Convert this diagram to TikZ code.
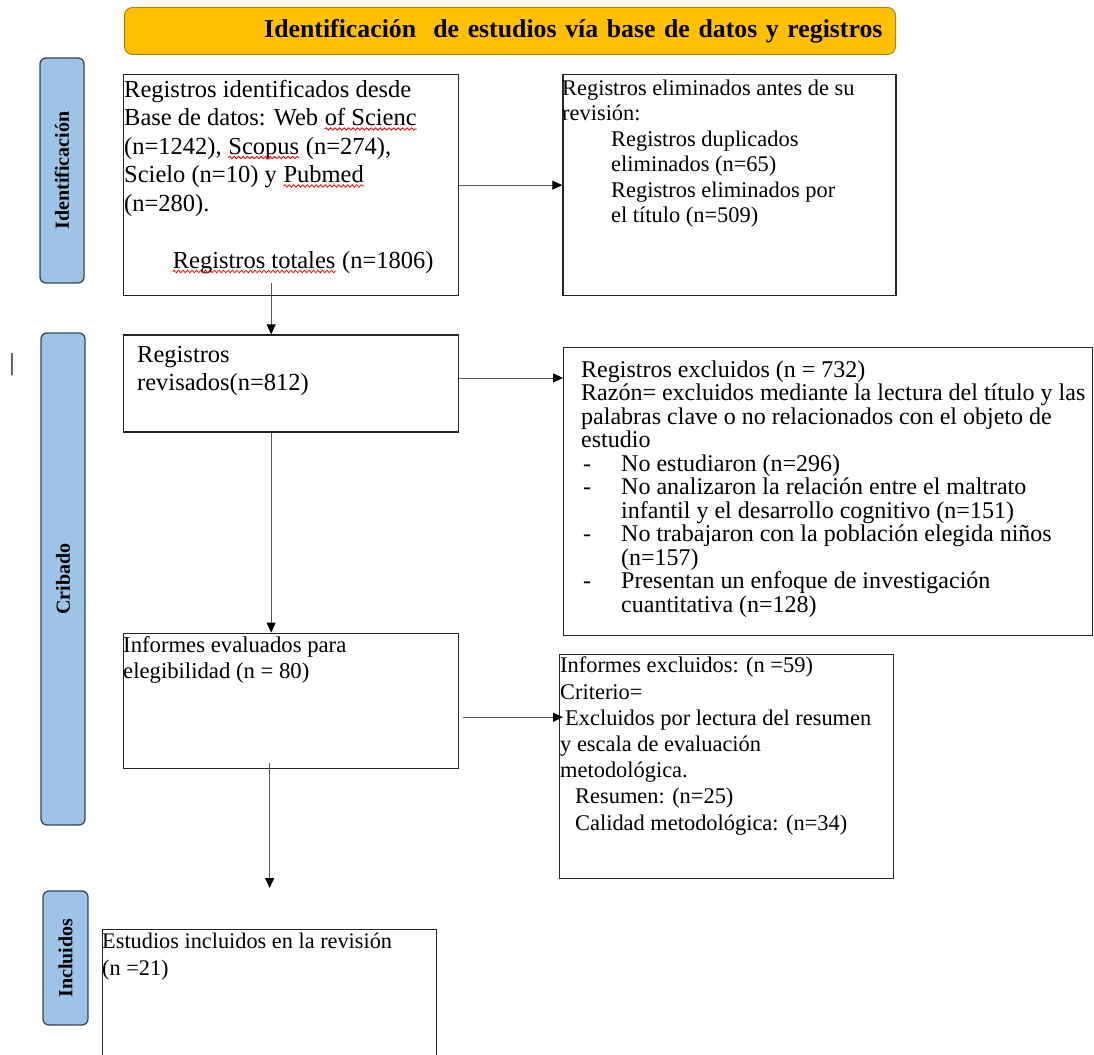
\documentclass[tikz,border=0pt]{standalone}
\usepackage{fontspec}
\setmainfont{Liberation Serif}
\usepackage{tikz}
\usetikzlibrary{positioning, arrows.meta, decorations.pathmorphing}
\definecolor{bannerfill}{HTML}{FFC000}
\definecolor{bannerline}{HTML}{B08800}
\definecolor{phasefill}{HTML}{9DC3E6}
\definecolor{phaseline}{HTML}{3A4654}
\tikzstyle{Box} = [rectangle, draw=black!85, line width=1.3pt, fill=white, anchor=north west, inner sep=0pt]
\tikzstyle{Txt} = [anchor=base west, inner sep=0pt, align=left]
\tikzstyle{Phase} = [rectangle, rounded corners=6pt, draw=phaseline, line width=1.3pt, fill=phasefill, rotate=90, inner sep=0pt, font=\fontsize{20}{24}\selectfont\bfseries]
\tikzstyle{Banner} = [rectangle, rounded corners=8pt, draw=bannerline, line width=1pt, fill=bannerfill, anchor=north west, inner xsep=13pt, inner ysep=0pt, text width=745pt, align=right, minimum height=47pt, font=\fontsize{25.8}{30}\selectfont\bfseries]
\tikzstyle{Link} = [draw=black!65, line width=0.9pt, -{Triangle[length=10pt, width=9pt, black]}]
\newcommand{\spellchk}[1]{\tikz[baseline=(sw.base)]{\node[inner sep=0pt, anchor=base, font=\rmfamily\fontsize{24.5}{28.5}\selectfont] (sw) {#1};\draw[red, line width=0.8pt, decorate, decoration={snake, amplitude=1.2pt, segment length=4.5pt}] ([yshift=-3.5pt]sw.base west) -- ([yshift=-3.5pt]sw.base east);}}

\begin{document}
\begin{tikzpicture}[x=1pt, y=-1pt]

    \useasboundingbox (0,0) rectangle (1094,1054);

    %%%%%%%%%%%%%%%%%%%%%%
    \node[Banner] (banner) at (124,7) {Identificación\ \ de estudios vía base de datos y registros};

    \node[Phase, minimum width=225pt, minimum height=44pt] (idphase) at (62,170.5) {Identificación};
    \node[Phase, minimum width=492pt, minimum height=44pt] (cribphase) at (63,579) {Cribado};
    \node[Phase, minimum width=134pt, minimum height=45pt] (inclphase) at (65.5,958) {Incluidos};

    \node[inner sep=0pt, font=\fontsize{24.5}{28}\selectfont] (cursor) at (12,365) {|};

    %%%%%%%%%%%%%%%%%%%%%%
    \node[Box, minimum width=335pt, minimum height=221pt] (ident) at (123,74) {};
    \node[Box, minimum width=333pt, minimum height=221pt] (elim) [right=103pt of ident] {};
    \node[Box, minimum width=335pt, minimum height=97pt] (revis) [below=38pt of ident] {};
    \node[Box, minimum width=529pt, minimum height=288pt] (excl) at (563,347) {};
    \node[Box, minimum width=335pt, minimum height=135pt] (eval) [below=200pt of revis] {};
    \node[Box, minimum width=334pt, minimum height=224pt] (excl2) at (559,654) {};
    \node[Box, minimum width=334pt, minimum height=140pt] (incl) at (102,929) {};

    %%%%%%%%%%%%%%%%%%%%%%
    % texts sit on the baseline of their last line
    \node[Txt, font=\fontsize{24.5}{28.5}\selectfont] (identtxt) at (124,268) {Registros identificados desde\\
        Base de datos: Web \spellchk{of Scienc}\\
        (n=1242), \spellchk{Scopus} (n=274),\\
        Scielo (n=10) y \spellchk{Pubmed}\\
        (n=280).\\[28.5pt]
        \hspace*{48pt}\spellchk{Registros totales} (n=1806)};

    \node[Txt, font=\fontsize{22.4}{25.5}\selectfont] (elimtxt) at (562,222.5) {Registros eliminados antes de su\\
        revisión:\\
        \hspace*{49pt}Registros duplicados\\
        \hspace*{49pt}eliminados (n=65)\\
        \hspace*{49pt}Registros eliminados por\\
        \hspace*{49pt}el título (n=509)};

    \node[Txt, font=\fontsize{24.5}{28}\selectfont] (revistxt) at (137,390) {Registros\\ revisados(n=812)};

    \node[Txt, font=\fontsize{24}{23.5}\selectfont] (excltxt) at (581,612) {Registros excluidos (n = 732)\\
        Razón= excluidos mediante la lectura del título y las\\
        palabras clave o no relacionados con el objeto de\\
        estudio\\
        \makebox[40pt][l]{\hspace{2pt}-}No estudiaron (n=296)\\
        \makebox[40pt][l]{\hspace{2pt}-}No analizaron la relación entre el maltrato\\
        \hspace*{40pt}infantil y el desarrollo cognitivo (n=151)\\
        \makebox[40pt][l]{\hspace{2pt}-}No trabajaron con la población elegida niños\\
        \hspace*{40pt}(n=157)\\
        \makebox[40pt][l]{\hspace{2pt}-}Presentan un enfoque de investigación\\
        \hspace*{40pt}cuantitativa (n=128)};

    \node[Txt, font=\fontsize{22.7}{26.5}\selectfont] (evaltxt) at (123,678.5) {Informes evaluados para\\ elegibilidad (n = 80)};

    \node[Txt, font=\fontsize{22.4}{26.2}\selectfont] (excl2txt) at (560,830) {Informes excluidos: (n =59)\\
        Criterio=\\
        \hspace*{5pt}Excluidos por lectura del resumen\\
        y escala de evaluación\\
        metodológica.\\
        \hspace*{15pt}Resumen: (n=25)\\
        \hspace*{15pt}Calidad metodológica: (n=34)};

    \node[Txt, font=\fontsize{22.3}{27}\selectfont] (incltxt) at (102,975) {Estudios incluidos en la revisión\\ (n =21)};

    %%%%%%%%%%%%%%%%%%%%%%
    \draw[Link] (ident.east) to (elim.west);
    \draw[Link] ([xshift=-20pt, yshift=13pt]ident.south) to ([xshift=-20pt]ident.south |- revis.north);
    \draw[Link] ([yshift=5.5pt]revis.east) to ([yshift=5.5pt]revis.east -| excl.west);
    \draw[Link] ([xshift=-20pt]revis.south) to ([xshift=-20pt]revis.south |- eval.north);
    \draw[Link] ([xshift=4pt, yshift=-16.5pt]eval.east) to ([xshift=4pt, yshift=-16.5pt]eval.east -| excl2.west);
    \draw[Link] ([yshift=6pt]eval.south -| incl.north) to ([yshift=41pt]incl.north);

\end{tikzpicture}
\end{document}
